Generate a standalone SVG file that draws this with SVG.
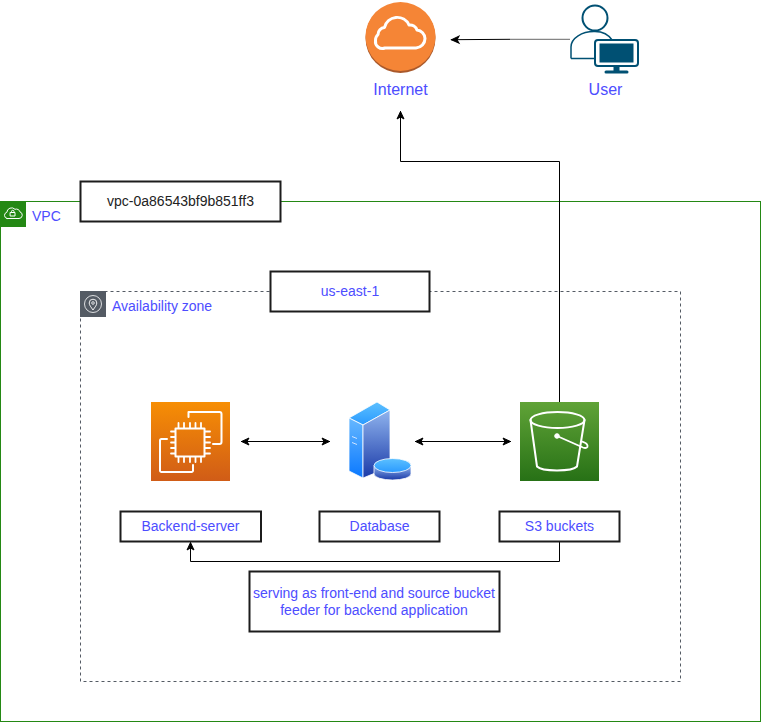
<svg xmlns="http://www.w3.org/2000/svg" width="761" height="722" viewBox="0 0 761 722">
<style>
text{font-family:"Liberation Sans",Arial,sans-serif;font-size:14px;fill:#4d4dff}
.c{text-anchor:middle}
.big{font-size:16px}
.box{fill:#fff;stroke:#1c1c1c;stroke-width:2}
.conn{fill:none;stroke:#000;stroke-width:1}
.wl{fill:none;stroke:#fff;stroke-linejoin:round;stroke-linecap:round}
</style>
<defs>
<marker id="arr" markerUnits="userSpaceOnUse" viewBox="0 0 10 10" refX="9.500" refY="5" markerWidth="10" markerHeight="10" orient="auto-start-reverse"><path d="M9 5L1.500 1.500L3.500 5L1.500 8.500Z" fill="#000" stroke="#000" stroke-width="1"/></marker>
<linearGradient id="ec2" x1="0" y1="0" x2="0" y2="1"><stop offset="0" stop-color="#f78e04"/><stop offset="1" stop-color="#d05c17"/></linearGradient>
<linearGradient id="s3" x1="0" y1="0" x2="0" y2="1"><stop offset="0" stop-color="#60a337"/><stop offset="1" stop-color="#277116"/></linearGradient>
<linearGradient id="srvL" x1="0" y1="0" x2="0" y2="1"><stop offset="0" stop-color="#66b8ff"/><stop offset="1" stop-color="#0a78ff"/></linearGradient>
<linearGradient id="srvR" x1="0" y1="0" x2="0" y2="1"><stop offset="0" stop-color="#90b4ee"/><stop offset="1" stop-color="#1a3aa8"/></linearGradient>
<linearGradient id="srvT" x1="0" y1="0" x2="0" y2="1"><stop offset="0" stop-color="#5cc0ff"/><stop offset="1" stop-color="#2a9aff"/></linearGradient>
</defs>

<g id="vpc">
<rect x="0.500" y="201.500" width="760" height="520" fill="#fff" stroke="#248814" stroke-width="1"/>
<rect x="0" y="201" width="26" height="26" fill="#248814"/>
<path class="wl" stroke-width="1" d="M7 218.500h12a3.400 3.400 0 0 0 1-6.600a3.800 3.800 0 0 0-5-2.600a4.800 4.800 0 0 0-8.200 3a3.200 3.200 0 0 0 .2 6.200z"/>
<path class="wl" stroke-width="1" d="M10.500 212.500h4.500v3.500h-4.500zM11.500 212.500v-1a1.200 1.200 0 0 1 2.500 0v1"/>
<text x="32" y="221">VPC</text>
</g>

<g id="availability-zone">
<rect x="80.500" y="291.500" width="600" height="390" fill="none" stroke="#545b64" stroke-width="1" stroke-dasharray="3 3"/>
<rect x="80" y="291" width="26" height="26" fill="#545b64"/>
<circle cx="93" cy="304" r="8.500" fill="none" stroke="#fff" stroke-width="0.800"/>
<path fill="none" stroke="#fff" stroke-width="0.900" d="M93 310c-2-3-3.800-4.800-3.800-7a3.800 3.800 0 0 1 7.600 0c0 2.200-1.800 4-3.800 7z"/>
<circle cx="93" cy="303" r="1.300" fill="none" stroke="#fff" stroke-width="0.800"/>
<text x="112" y="311">Availability zone</text>
</g>

<g id="connectors">
<path class="conn" d="M570 39.300H510" stroke-opacity="0.600"/>
<path class="conn" d="M510 39.300L451 39.700" marker-end="url(#arr)"/>
<path class="conn" d="M559.500 402V161.500H400.500V111" marker-end="url(#arr)"/>
<path class="conn" d="M559.500 541V561.500H190.500V542" marker-end="url(#arr)"/>
<path class="conn" d="M241 441.500H330" marker-start="url(#arr)" marker-end="url(#arr)"/>
<path class="conn" d="M415 441.500H511" marker-start="url(#arr)" marker-end="url(#arr)"/>
</g>

<g id="vpc-label">
<rect class="box" x="80.500" y="181.500" width="200" height="40"/>
<text class="c" x="180.500" y="206" style="fill:#222">vpc-0a86543bf9b851ff3</text>
</g>
<g id="region-label">
<rect class="box" x="270.500" y="271.500" width="159" height="40"/>
<text class="c" x="350" y="296">us-east-1</text>
</g>

<g id="internet">
<circle cx="400.500" cy="38" r="35" fill="#a9592b"/>
<ellipse cx="400.500" cy="36.500" rx="35" ry="34.500" fill="#f58536"/>
<path class="wl" stroke-width="3" d="M385 48h31a9.500 9.500 0 0 0 9-9.500a9 9 0 0 0-8-8.500a7.500 7.500 0 0 0-8-5a13 13 0 0 0-24.500 2.500a7 7 0 0 0-6.500 7a8 8 0 0 0-2.500 6a7 7 0 0 0 9.500 7.500z"/>
<text class="c big" x="400.500" y="95">Internet</text>
</g>

<g id="user">
<circle cx="595" cy="18" r="12.500" fill="#fff" stroke="#005073" stroke-width="2"/>
<path d="M571 58.500V47a23 15.500 0 0 1 24-15.500c7 0 13 2 17.500 9" fill="#fff" stroke="#005073" stroke-width="1.500"/>
<path d="M571 58.500H595" fill="none" stroke="#005073" stroke-width="1.500"/>
<rect x="595" y="40" width="43" height="26" rx="3" fill="#fff" stroke="#005073" stroke-width="2"/>
<rect x="599.500" y="43.500" width="34" height="19" fill="#005073"/>
<path d="M613.500 66h6v5h-6zM606 70.500h21a1.500 1.500 0 0 1 0 3h-21a1.500 1.500 0 0 1 0-3z" fill="#005073"/>
<text class="c big" x="605.500" y="95">User</text>
</g>

<g id="backend-server">
<rect x="151" y="402" width="79" height="79" fill="url(#ec2)"/>
<path class="wl" stroke-width="2" d="M188.500 417v-5h31a2 2 0 0 1 2 2V442a2 2 0 0 1-2 2h-6.500"/>
<path class="wl" stroke-width="2" d="M167 439h-5.500a1.500 1.500 0 0 0-1.500 1.500v30a1.500 1.500 0 0 0 1.500 1.500h30a1.500 1.500 0 0 0 1.500-1.500v-5.500"/>
<rect class="wl" stroke-width="2" x="175.500" y="428.500" width="29" height="28"/>
<path class="wl" stroke-width="1.800" d="M178.500 423v5M184 423v5M190 423v5M195.500 423v5M201 423v5M178.500 457v5M184 457v5M190 457v5M195.500 457v5M201 457v5M171 431.500h4M171 437h4M171 442.500h4M171 448h4M171 453.500h4M205 431.500h5M205 437h5M205 442.500h5M205 448h5M205 453.500h5"/>
</g>

<g id="database">
<path d="M349 418L377 402L390 410L363 425Z" fill="url(#srvT)" stroke="#fff" stroke-width="0.800"/>
<path d="M349 418L363 425V478L349 471Z" fill="url(#srvL)" stroke="#fff" stroke-width="0.800"/>
<path d="M363 425L390 410V467L363 478Z" fill="url(#srvR)" stroke="#fff" stroke-width="0.800"/>
<path d="M352 436.500l5 2M352 442.500l5 2" stroke="#d0e4ff" stroke-width="1" fill="none"/>
<path d="M374 465.500V474a18.500 6 0 0 0 37 0V465.500Z" fill="url(#srvR)" stroke="#fff" stroke-width="0.800"/>
<ellipse cx="392.500" cy="465.500" rx="18.500" ry="7" fill="url(#srvT)" stroke="#fff" stroke-width="0.800"/>
</g>

<g id="s3-bucket">
<rect x="520" y="402" width="79" height="79" fill="url(#s3)"/>
<ellipse cx="557.500" cy="420" rx="27" ry="8" class="wl" stroke-width="2"/>
<path class="wl" stroke-width="2" d="M530.500 420L537 466.500a20.500 5 0 0 0 40 0L584.500 420"/>
<circle cx="557" cy="436" r="2.300" fill="#fff" stroke="#fff"/>
<path class="wl" stroke-width="1.800" d="M557 436L583 447.500c3 1.200 5 0 4.500-2c-.5-2-3.500-3.500-6-4.200"/>
</g>

<g id="backend-label">
<rect class="box" x="120.500" y="511.500" width="140.500" height="30"/>
<text class="c" x="190.500" y="531">Backend-server</text>
</g>
<g id="database-label">
<rect class="box" x="319.500" y="511.500" width="120" height="30"/>
<text class="c" x="379.500" y="531">Database</text>
</g>
<g id="s3-label">
<rect class="box" x="499.500" y="511.500" width="120" height="30"/>
<text class="c" x="559.500" y="531">S3 buckets</text>
</g>
<g id="note">
<rect class="box" x="249.500" y="571.500" width="250" height="60"/>
<text class="c" x="374" y="598">serving as front-end and source bucket</text>
<text class="c" x="374" y="615">feeder for backend application</text>
</g>
</svg>
